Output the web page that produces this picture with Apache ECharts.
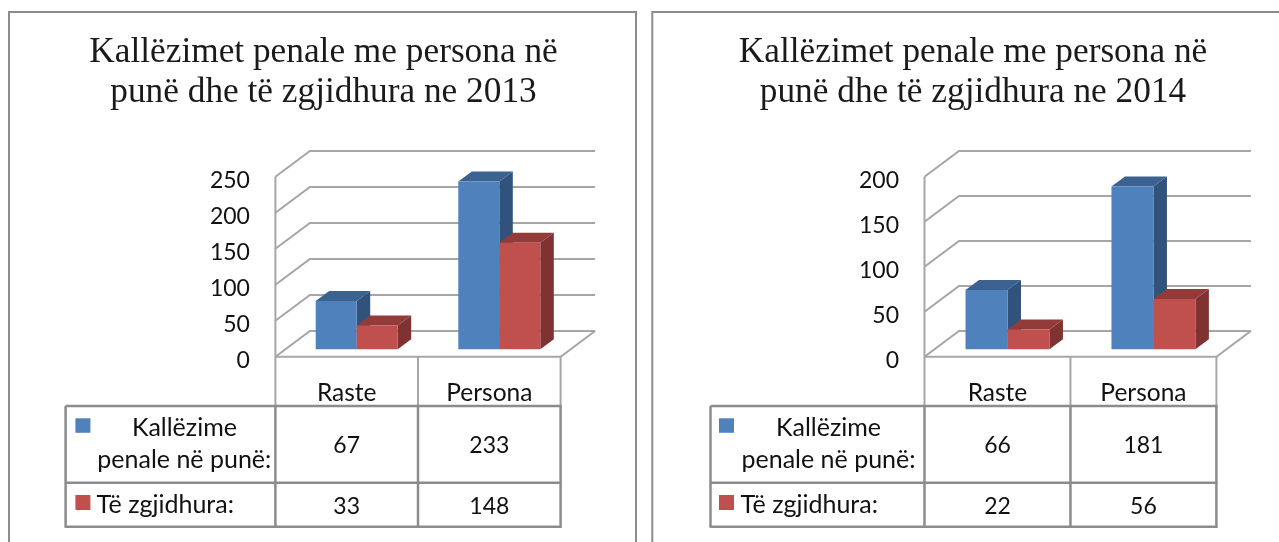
<!DOCTYPE html>
<html>
<head>
<meta charset="utf-8">
<style>html,body{margin:0;padding:0;background:#fff}#c{width:1279px;height:542px}</style>
<script src="https://cdn.jsdelivr.net/npm/echarts@6/dist/echarts.min.js"></script>
</head>
<body>
<div id="c"></div>
<script>
const categories = ['Raste', 'Persona'];
const seriesNames = ['Kallëzime\npenale në punë:', 'Të zgjidhura:'];
const titleA = 'Kallëzimet penale me persona në\npunë dhe të zgjidhura ne 2013';
const titleB = 'Kallëzimet penale me persona në\npunë dhe të zgjidhura ne 2014';
const kallezime2013 = [67, 233];
const zgjidhura2013 = [33, 148];
const kallezime2014 = [66, 181];
const zgjidhura2014 = [22, 56];
const ticks2013 = [0, 50, 100, 150, 200, 250];
const ticks2014 = [0, 50, 100, 150, 200];

const BLUE = ['#4f81bd', '#31527b', '#3b6291'];
const RED = ['#c0504d', '#7f3231', '#933b39'];
const WALL = '#a6a6a6', FRAME = '#8c8c8c', TXT = '#111';
const SANS = 'Lato', SERIF = '"Liberation Serif"';

const panels = [
  {left: 275.4, width: 285.2, tableLeft: 65.6, swatch: 75.4, rowText: 184.4, line2: 184.3, zg: 96.5, max: 250, ticks: ticks2013, a: kallezime2013, b: zgjidhura2013, title: titleA, tc: 323.5},
  {left: 924.5, width: 291.9, tableLeft: 710.5, swatch: 719, rowText: 828.5, line2: 828.5, zg: 740.5, max: 200, ticks: ticks2014, a: kallezime2014, b: zgjidhura2014, title: titleB, tc: 973}
];
const TOP = 176.7, H = 180, BASE = TOP + H;
const DX = 34.5, DY = 25.7;

function wallRender(params, api) {
  const cs = params.coordSys;
  const y = api.coord([0, api.value(0)])[1];
  const x0 = cs.x, x1 = cs.x + cs.width;
  const shape = {points: [[x0, y], [x0 + DX, y - DY], [x1 + DX, y - DY]]};
  const style = {stroke: WALL, lineWidth: 2, fill: null};
  const kids = [{type: 'polyline', shape: shape, style: style}];
  if (api.value(0) === 0) {
    kids.push({type: 'polyline', shape: {points: [[x0, y], [x1, y], [x1 + DX, y - DY]]}, style: style});
    kids.push({type: 'line', shape: {x1: x0, y1: cs.y, x2: x0, y2: y}, style: {stroke: WALL, lineWidth: 2}});
  }
  return {type: 'group', children: kids};
}
function barRender(slot, colors) {
  return function (params, api) {
    const idx = api.value(0), val = api.value(1);
    const band = api.size([1, 0])[0];
    const w = band * 0.2875;
    const c = api.coord([idx, val]), o = api.coord([idx, 0]);
    const xl = c[0] + 10 + (slot - 1) * w, xr = xl + w;
    const yt = c[1] - 7.4, yb = o[1] - 7.4;
    const dx = 13.5, dy = 10;
    return {type: 'group', children: [
      {type: 'polygon', shape: {points: [[xr, yb], [xr + dx, yb - dy], [xr + dx, yt - dy], [xr, yt]]}, style: {fill: colors[1]}},
      {type: 'polygon', shape: {points: [[xl, yt], [xl + dx, yt - dy], [xr + dx, yt - dy], [xr, yt]]}, style: {fill: colors[2]}},
      {type: 'rect', shape: {x: xl, y: yt, width: w, height: yb - yt}, style: {fill: colors[0]}}
    ]};
  };
}

const graphics = [];
function line(x1, y1, x2, y2, w, col) {
  graphics.push({type: 'line', silent: true, shape: {x1, y1, x2, y2}, style: {stroke: col || FRAME, lineWidth: w || 2}});
}
function text(x, y, t, align, size) {
  graphics.push({type: 'text', silent: true, x, y, style: {text: t, fill: TXT, font: (size || 23) + 'px ' + SANS, textAlign: align || 'center', textVerticalAlign: 'middle'}});
}
line(9, 12, 636, 12); line(9, 11, 9, 545); line(636, 11, 636, 545);
line(652.3, 12, 1285, 12); line(652.3, 11, 652.3, 545);

const R1 = 406, R2 = 482.7, R3 = 526.7;
panels.forEach(p => {
  const m = p.left + p.width / 2, r = p.left + p.width;
  line(m, BASE, m, R1, 2, WALL); line(r, BASE, r, R1, 2, WALL); line(p.left, BASE, p.left, R1, 2, WALL);
  [R1, R2, R3].forEach(y => line(p.tableLeft, y, r + 1, y, 2.5));
  [p.tableLeft, p.left, m, r].forEach(x => line(x, R1, x, R3 + 1, 2.5));
  const labels = seriesNames[0].split('\n');
  text(p.rowText, 428, labels[0], 'center', 25);
  text(p.line2, 460, labels[1], 'center', 25);
  text(p.zg, 505, seriesNames[1], 'left', 25);
  graphics.push({type: 'rect', silent: true, shape: {x: p.swatch, y: 418.3, width: 15, height: 14.5}, style: {fill: BLUE[0]}});
  graphics.push({type: 'rect', silent: true, shape: {x: p.swatch, y: 495, width: 15, height: 15}, style: {fill: RED[0]}});
  const c1 = p.left + p.width / 4, c2 = p.left + p.width * 3 / 4;
  [c1, c2].forEach((cx, i) => {
    text(cx, 446, String(p.a[i]));
    text(cx, 507, String(p.b[i]));
  });
});

const option = {
  animation: false,
  backgroundColor: '#fff',
  title: panels.map(p => ({
    text: p.title, left: p.tc, top: 33, textAlign: 'center', padding: 0,
    textStyle: {fontFamily: SERIF, fontSize: 35.3, fontWeight: 'normal', color: '#1a1a1a', lineHeight: 40}
  })),
  grid: panels.map(p => ({left: p.left, width: p.width, top: TOP, height: H, containLabel: false})),
  xAxis: panels.map((p, i) => ({
    type: 'category', gridIndex: i, data: categories,
    axisLine: {show: false}, axisTick: {show: false}, splitLine: {show: false},
    axisLabel: {fontFamily: SANS, fontSize: 24.5, color: TXT, margin: 24}
  })),
  yAxis: panels.map((p, i) => ({
    type: 'value', gridIndex: i, min: 0, max: p.max, interval: 50,
    axisLine: {show: false}, axisTick: {show: false}, splitLine: {show: false},
    axisLabel: {margin: 25.5, formatter: '{n|{value}}',
      rich: {n: {fontFamily: SANS, fontSize: 23, color: TXT, padding: [7, 0, 0, 0]}}}
  })),
  graphic: {elements: graphics},
  series: panels.flatMap((p, i) => [
    {type: 'custom', xAxisIndex: i, yAxisIndex: i, clip: false, silent: true, renderItem: wallRender,
      encode: {y: 0}, data: p.ticks.map(v => [v])},
    {type: 'custom', xAxisIndex: i, yAxisIndex: i, clip: false, silent: true, renderItem: barRender(0, BLUE),
      encode: {x: 0, y: 1}, data: p.a.map((v, k) => [k, v])},
    {type: 'custom', xAxisIndex: i, yAxisIndex: i, clip: false, silent: true, renderItem: barRender(1, RED),
      encode: {x: 0, y: 1}, data: p.b.map((v, k) => [k, v])}
  ])
};
echarts.init(document.getElementById('c')).setOption(option);
</script>
</body>
</html>
